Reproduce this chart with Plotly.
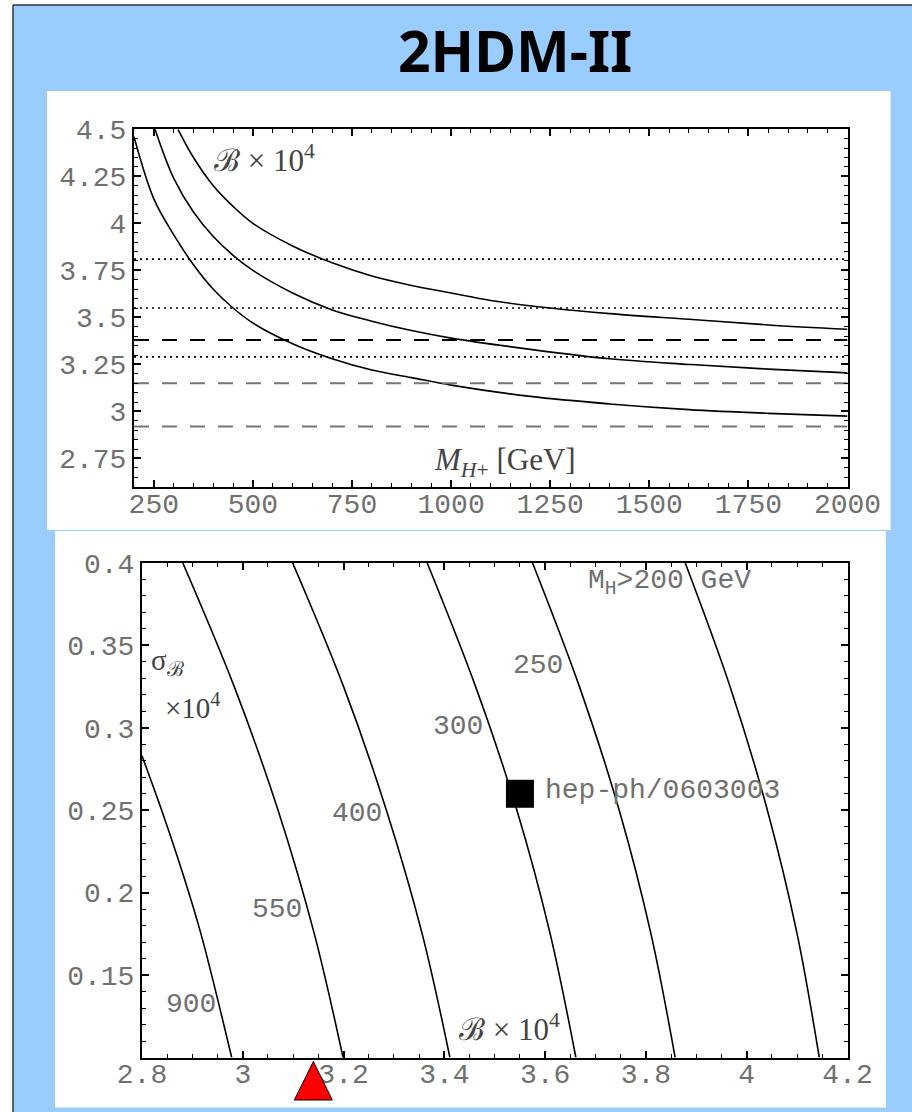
import plotly.graph_objects as go

W, H = 912, 1112

# ---------------- top panel data: B x 10^4 vs M_H+ ----------------
m_upper = [311, 350, 400, 450, 500, 600, 700, 800, 900, 1000, 1100, 1250, 1400, 1600, 1800, 2000]
b_upper = [4.50, 4.35, 4.20, 4.09, 4.00, 3.88, 3.79, 3.72, 3.67, 3.63, 3.59, 3.55, 3.52, 3.49, 3.46, 3.437]
m_middle = [253, 300, 350, 400, 450, 500, 600, 700, 800, 900, 1000, 1200, 1400, 1600, 1800, 2000]
b_middle = [4.50, 4.24, 4.06, 3.93, 3.83, 3.75, 3.63, 3.54, 3.48, 3.43, 3.39, 3.33, 3.28, 3.25, 3.225, 3.205]
m_lower = [200, 250, 300, 350, 400, 450, 500, 600, 700, 800, 900, 1000, 1200, 1400, 1600, 1800, 2000]
b_lower = [4.46, 4.13, 3.94, 3.78, 3.65, 3.55, 3.47, 3.36, 3.28, 3.22, 3.18, 3.14, 3.08, 3.04, 3.01, 2.99, 2.975]

m_span = [200, 2000]
exp_band = [3.29, 3.55, 3.81]          # dotted lines
sm_band = [2.92, 3.15, 3.38]           # dashed lines
sm_colors = ["#777777", "#777777", "#000000"]

top_xticks = [250, 500, 750, 1000, 1250, 1500, 1750, 2000]
top_yticks = [2.75, 3.0, 3.25, 3.5, 3.75, 4.0, 4.25, 4.5]
top_yticktext = ["2.75", "3", "3.25", "3.5", "3.75", "4", "4.25", "4.5"]

# ---------------- bottom panel data: contours of M_H in (B, sigma_B) ----------------
sig_pts = [0.4, 0.325, 0.25, 0.175, 0.1]
b_c200 = [3.878, 3.967, 4.041, 4.100, 4.144]
b_c250 = [3.575, 3.668, 3.747, 3.810, 3.858]
b_c300 = [3.366, 3.462, 3.544, 3.610, 3.661]
b_c400 = [3.099, 3.200, 3.285, 3.356, 3.411]
b_c550 = [2.881, 2.983, 3.070, 3.142, 3.199]
sig_c900 = [0.283, 0.25, 0.2125, 0.175, 0.1]
b_c900 = [2.800, 2.839, 2.880, 2.917, 2.978]

contour_labels = ["900", "550", "400", "300", "250"]
label_b = [2.897, 3.068, 3.227, 3.427, 3.586]
label_sig = [0.132, 0.1895, 0.2483, 0.3011, 0.3381]

hep_b, hep_sig = [3.55], [0.26]
sm_b = 3.14

bot_xticks = [2.8, 3.0, 3.2, 3.4, 3.6, 3.8, 4.0, 4.2]
bot_xticktext = ["2.8", "3", "3.2", "3.4", "3.6", "3.8", "4", "4.2"]
bot_yticks = [0.15, 0.2, 0.25, 0.3, 0.35, 0.4]
bot_yticktext = ["0.15", "0.2", "0.25", "0.3", "0.35", "0.4"]


def px(x):
    return x / W


def py(y):
    return 1 - y / H


fig = go.Figure()
LW = 1.6

for mx, by in [(m_upper, b_upper), (m_middle, b_middle), (m_lower, b_lower)]:
    fig.add_trace(go.Scatter(x=mx, y=by, mode="lines", line=dict(color="black", width=LW, shape="spline"),
                             xaxis="x", yaxis="y", showlegend=False, hoverinfo="skip"))
for v in exp_band:
    fig.add_trace(go.Scatter(x=m_span, y=[v, v], mode="lines",
                             line=dict(color="black", width=1.6, dash="2px,4px"),
                             xaxis="x", yaxis="y", showlegend=False, hoverinfo="skip"))
for v, c in zip(sm_band, sm_colors):
    fig.add_trace(go.Scatter(x=m_span, y=[v, v], mode="lines",
                             line=dict(color=c, width=2, dash="15px,13px"),
                             xaxis="x", yaxis="y", showlegend=False, hoverinfo="skip"))

for bx, sy in [(b_c200, sig_pts), (b_c250, sig_pts), (b_c300, sig_pts), (b_c400, sig_pts),
               (b_c550, sig_pts), (b_c900, sig_c900)]:
    fig.add_trace(go.Scatter(x=bx, y=sy, mode="lines", line=dict(color="black", width=LW, shape="spline"),
                             xaxis="x2", yaxis="y2", showlegend=False, hoverinfo="skip"))

fig.add_trace(go.Scatter(x=hep_b, y=hep_sig, mode="markers",
                         marker=dict(symbol="square", size=28, color="black"),
                         xaxis="x2", yaxis="y2", showlegend=False, hoverinfo="skip"))

mono = "Liberation Mono, Courier New, monospace"
tick_font = dict(family=mono, size=28, color="#707070")
lab_font = dict(family=mono, size=28, color="#707070")
math_font = dict(family="Liberation Serif, DejaVu Serif, serif", size=31, color="#444444")
math_font_s = dict(family="Liberation Serif, DejaVu Serif, serif", size=29, color="#444444")

axis_common = dict(showline=True, linecolor="black", linewidth=2, mirror="allticks",
                   ticks="inside", ticklen=7, tickwidth=1.5, tickcolor="black",
                   showgrid=False, zeroline=False, tickfont=tick_font, automargin=False)

fig.update_layout(
    template="none",
    width=W, height=H, margin=dict(l=0, r=0, t=0, b=0, pad=0, autoexpand=False),
    paper_bgcolor="#99CCFF", plot_bgcolor="white",
    xaxis=dict(domain=[px(134), px(847.5)], range=[200, 2000], anchor="y",
               tickmode="array", tickvals=top_xticks, ticklabelstandoff=-9,
               minor=dict(tickmode="linear", tick0=0, dtick=50, ticks="inside", ticklen=4,
                          tickwidth=1.2, tickcolor="black"),
               **axis_common),
    yaxis=dict(domain=[py(486.7), py(129.3)], range=[2.6, 4.5], anchor="x",
               tickmode="array", tickvals=top_yticks, ticktext=top_yticktext,
               minor=dict(tickmode="linear", tick0=0, dtick=0.05, ticks="inside", ticklen=4,
                          tickwidth=1.2, tickcolor="black"),
               **axis_common),
    xaxis2=dict(domain=[px(142), px(847.5)], range=[2.8, 4.2], anchor="y2",
                tickmode="array", tickvals=bot_xticks, ticktext=bot_xticktext, ticklabelstandoff=-10,
                minor=dict(tickmode="linear", tick0=0, dtick=0.05, ticks="inside", ticklen=4,
                           tickwidth=1.2, tickcolor="black"),
                **axis_common),
    yaxis2=dict(domain=[py(1057.5), py(563)], range=[0.1, 0.4], anchor="x2",
                tickmode="array", tickvals=bot_yticks, ticktext=bot_yticktext,
                minor=dict(tickmode="linear", tick0=0, dtick=0.01, ticks="inside", ticklen=4,
                           tickwidth=1.2, tickcolor="black"),
                **axis_common),
)

shapes = [
    # white outer strip and dark frame lines
    dict(type="rect", xref="paper", yref="paper", x0=0, x1=px(13), y0=0, y1=1,
         fillcolor="white", line=dict(width=0), layer="below"),
    dict(type="rect", xref="paper", yref="paper", x0=0, x1=1, y0=py(5), y1=1,
         fillcolor="white", line=dict(width=0), layer="below"),
    dict(type="line", xref="paper", yref="paper", x0=px(13), x1=px(13), y0=0, y1=py(5),
         line=dict(color="#333333", width=1.5), layer="below"),
    dict(type="line", xref="paper", yref="paper", x0=px(13), x1=1, y0=py(5), y1=py(5),
         line=dict(color="#333333", width=1.5), layer="below"),
    # white panels
    dict(type="rect", xref="paper", yref="paper", x0=px(47), x1=px(890.5), y0=py(530), y1=py(91),
         fillcolor="white", line=dict(width=0), layer="below"),
    dict(type="rect", xref="paper", yref="paper", x0=px(55), x1=px(886), y0=py(1107.5), y1=py(531),
         fillcolor="white", line=dict(width=0), layer="below"),
    # SM value: red triangle just below the B axis, drawn above the tick labels
    dict(type="path", xref="x2", yref="y2 domain", xsizemode="pixel", ysizemode="pixel",
         xanchor=sm_b, yanchor=0,
         path="M0,-4 L19,-42.5 L-19,-42.5 Z",
         fillcolor="#FF0000", line=dict(color="black", width=1), layer="above"),
]
fig.update_layout(shapes=shapes)

ann = [
    dict(text="<b>2HDM-II</b>", xref="paper", yref="paper", x=px(515), y=py(50), yanchor="middle",
         showarrow=False, font=dict(family="Noto Sans, sans-serif", size=57, color="black")),
    dict(text="ℬ × 10<sup>4</sup>", xref="x", yref="y", x=530, y=4.347, showarrow=False, font=math_font),
    dict(text="<i>M</i><sub><i>H</i>+</sub> [GeV]", xref="x", yref="y", x=1137, y=2.73,
         showarrow=False, font=math_font),
    dict(text="σ<sub>ℬ</sub>", xref="x2", yref="y2", x=2.85, y=0.340, showarrow=False, font=math_font_s),
    dict(text="×10<sup>4</sup>", xref="x2", yref="y2", x=2.901, y=0.313, showarrow=False, font=math_font_s),
    dict(text="ℬ × 10<sup>4</sup>", xref="x2", yref="y2", x=3.53, y=0.118, showarrow=False, font=math_font),
    dict(text="M<sub>H</sub>&gt;200 GeV", xref="x2", yref="y2", x=3.846, y=0.3879, showarrow=False,
         font=lab_font),
    dict(text="hep-ph/0603003", xref="x2", yref="y2", x=3.596, y=0.262, xanchor="left",
         showarrow=False, font=lab_font),
]
for t, bx, sy in zip(contour_labels, label_b, label_sig):
    ann.append(dict(text=t, xref="x2", yref="y2", x=bx, y=sy, showarrow=False, font=lab_font))
fig.update_layout(annotations=ann)

fig.write_html("out.html")
